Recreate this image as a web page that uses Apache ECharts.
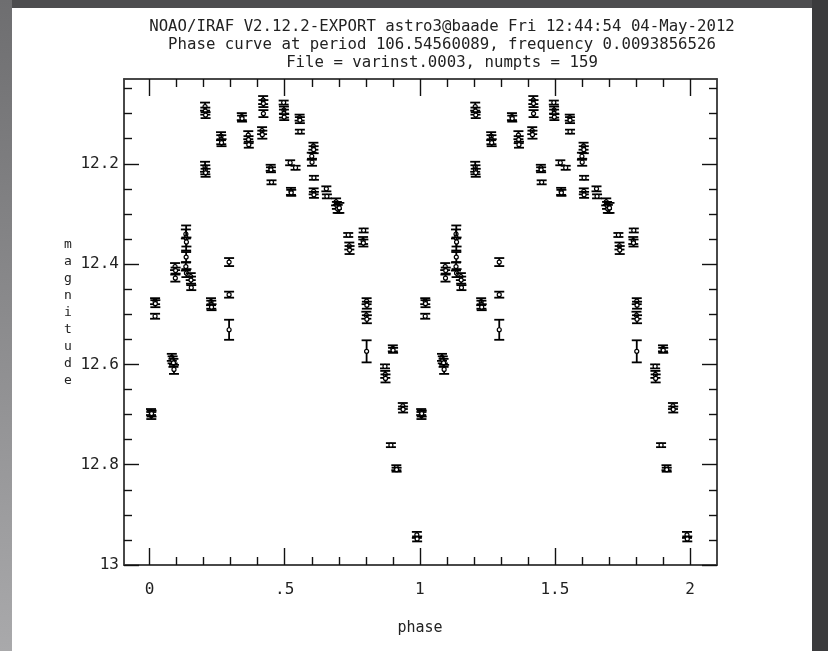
<!DOCTYPE html>
<html>
<head>
<meta charset="utf-8">
<title>Phase curve</title>
<script src="https://cdn.jsdelivr.net/npm/echarts@6.0.0/dist/echarts.min.js"></script>
<style>
  html, body { margin: 0; padding: 0; background: #fff; }
  #chart { width: 828px; height: 651px; }
</style>
</head>
<body>
<div id="chart"></div>
<script>
// one cycle of the folded light curve (phase, magnitude, error)
const phases = [
  0.005, 0.006, 0.007, 0.020, 0.021, 0.020, 0.082, 0.085, 0.088, 0.090,
  0.094, 0.096, 0.095, 0.134, 0.135, 0.136, 0.135, 0.134, 0.136, 0.152,
  0.153, 0.154, 0.205, 0.206, 0.207, 0.205, 0.206, 0.207, 0.227, 0.228,
  0.229, 0.264, 0.265, 0.266, 0.294, 0.294, 0.294, 0.341, 0.342, 0.365,
  0.366, 0.367, 0.420, 0.421, 0.421, 0.416, 0.417, 0.448, 0.449, 0.451,
  0.496, 0.497, 0.497, 0.498, 0.555, 0.556, 0.556, 0.520, 0.540, 0.523,
  0.524, 0.606, 0.607, 0.600, 0.601, 0.608, 0.607, 0.608, 0.654, 0.656,
  0.690, 0.693, 0.696, 0.702, 0.735, 0.739, 0.740, 0.792, 0.790, 0.791,
  0.803, 0.804, 0.802, 0.804, 0.803, 0.871, 0.872, 0.873, 0.893, 0.900,
  0.901, 0.913, 0.914, 0.937, 0.938, 0.989, 0.990
];
const mags = [
  12.695, 12.702, 12.698, 12.474, 12.479, 12.504, 12.586, 12.591, 12.597, 12.610,
  12.405, 12.413, 12.428, 12.340, 12.348, 12.356, 12.386, 12.405, 12.418, 12.425,
  12.432, 12.447, 12.086, 12.095, 12.103, 12.206, 12.212, 12.218, 12.475, 12.481,
  12.486, 12.145, 12.152, 12.158, 12.396, 12.461, 12.531, 12.106, 12.110, 12.143,
  12.152, 12.162, 12.073, 12.080, 12.100, 12.134, 12.142, 12.208, 12.212, 12.237,
  12.078, 12.093, 12.100, 12.107, 12.108, 12.113, 12.136, 12.198, 12.208, 12.255,
  12.258, 12.165, 12.172, 12.185, 12.197, 12.228, 12.255, 12.262, 12.250, 12.265,
  12.276, 12.283, 12.290, 12.288, 12.342, 12.364, 12.372, 12.333, 12.353, 12.358,
  12.474, 12.482, 12.502, 12.510, 12.574, 12.604, 12.620, 12.628, 12.761, 12.568,
  12.572, 12.806, 12.810, 12.683, 12.690, 12.940, 12.948
];
const errs = [
  0.006, 0.007, 0.006, 0.006, 0.007, 0.005, 0.007, 0.007, 0.008, 0.009,
  0.007, 0.006, 0.007, 0.009, 0.025, 0.009, 0.010, 0.008, 0.008, 0.007,
  0.007, 0.005, 0.008, 0.007, 0.006, 0.010, 0.009, 0.008, 0.007, 0.008,
  0.006, 0.008, 0.009, 0.007, 0.008, 0.006, 0.020, 0.007, 0.006, 0.008,
  0.007, 0.006, 0.008, 0.007, 0.007, 0.007, 0.008, 0.006, 0.005, 0.004,
  0.004, 0.007, 0.008, 0.006, 0.006, 0.006, 0.004, 0.005, 0.004, 0.007,
  0.006, 0.007, 0.007, 0.007, 0.007, 0.004, 0.006, 0.006, 0.005, 0.004,
  0.007, 0.007, 0.008, 0.010, 0.004, 0.007, 0.008, 0.004, 0.007, 0.007,
  0.006, 0.007, 0.007, 0.008, 0.022, 0.004, 0.007, 0.008, 0.004, 0.006,
  0.005, 0.005, 0.004, 0.006, 0.006, 0.006, 0.005
];
// the curve is drawn over two cycles
const cycles = [0, 1];

const xMajorTicks = [0, 0.5, 1, 1.5, 2];
const xTickLabels = ["0", ".5", "1", "1.5", "2"];
const xMinorTicks = [0.1, 0.2, 0.3, 0.4, 0.6, 0.7, 0.8, 0.9, 1.1, 1.2, 1.3, 1.4, 1.6, 1.7, 1.8, 1.9];
const yMajorTicks = [12.2, 12.4, 12.6, 12.8, 13];
const yTickLabels = ["12.2", "12.4", "12.6", "12.8", "13"];
const yMinorTicks = [12.05, 12.1, 12.15, 12.25, 12.3, 12.35, 12.45, 12.5, 12.55, 12.65, 12.7, 12.75, 12.85, 12.9, 12.95];

const titleLines = [
  "NOAO/IRAF V2.12.2-EXPORT astro3@baade Fri 12:44:54 04-May-2012",
  "Phase curve at period 106.54560089, frequency 0.0093856526",
  "File = varinst.0003, numpts = 159",
];

const FONT = "DejaVu Sans Mono";
const X_MIN = -0.095, X_MAX = 2.1;
const Y_MIN = 12.031, Y_MAX = 13.0;

const points = [];
cycles.forEach((c) => {
  phases.forEach((p, i) => points.push([p + c, mags[i], errs[i]]));
});

const frameLine = { show: true, onZero: false, lineStyle: { color: "#3c3c3c", width: 1.5 } };
const tickStyle = { color: "#111", width: 1.4 };

const makeX = (position, ticks, len, withLabels) => ({
  type: "value",
  position: position,
  min: X_MIN,
  max: X_MAX,
  axisLine: frameLine,
  splitLine: { show: false },
  axisTick: { show: true, inside: true, length: len, customValues: ticks, lineStyle: tickStyle },
  axisLabel: withLabels
    ? {
        show: true,
        customValues: ticks,
        formatter: (v) => xTickLabels[xMajorTicks.findIndex((t) => Math.abs(t - v) < 1e-6)],
        margin: 17,
        color: "#222",
        fontFamily: FONT,
        fontSize: 16,
      }
    : { show: false },
});

const makeY = (position, ticks, len, withLabels) => ({
  type: "value",
  position: position,
  inverse: true,
  min: Y_MIN,
  max: Y_MAX,
  axisLine: frameLine,
  splitLine: { show: false },
  axisTick: { show: true, inside: true, length: len, customValues: ticks, lineStyle: tickStyle },
  axisLabel: withLabels
    ? {
        show: true,
        customValues: ticks,
        formatter: (v) => yTickLabels[yMajorTicks.findIndex((t) => Math.abs(t - v) < 1e-6)],
        margin: 5,
        color: "#222",
        fontFamily: FONT,
        fontSize: 16,
      }
    : { show: false },
});

const renderErrorBar = (params, api) => {
  const x = api.value(0);
  const y = api.value(1);
  const e = api.value(2);
  const c = api.coord([x, y]);
  const hi = api.coord([x, y - e]);
  const lo = api.coord([x, y + e]);
  const hw = 5;
  const st = { stroke: "#000", lineWidth: 1.8 };
  return {
    type: "group",
    children: [
      { type: "line", shape: { x1: c[0], y1: hi[1], x2: c[0], y2: lo[1] }, style: st },
      { type: "line", shape: { x1: c[0] - hw, y1: hi[1], x2: c[0] + hw, y2: hi[1] }, style: st },
      { type: "line", shape: { x1: c[0] - hw, y1: lo[1], x2: c[0] + hw, y2: lo[1] }, style: st },
      { type: "circle", shape: { cx: c[0], cy: c[1], r: 2 }, style: { fill: "#fff", stroke: "#000", lineWidth: 1.2 } },
    ],
  };
};

const titleTexts = titleLines.map((line, i) => ({
  type: "text",
  style: {
    x: 442,
    y: 27 + i * 18,
    text: line,
    font: "15.7px " + FONT,
    fill: "#222",
    align: "center",
    verticalAlign: "middle",
  },
}));

const chart = echarts.init(document.getElementById("chart"), null, { renderer: "canvas" });

chart.setOption({
  backgroundColor: "#fff",
  animation: false,
  grid: { left: 124, right: 111, top: 79, bottom: 86 },
  xAxis: [
    makeX("bottom", xMajorTicks, 17, true),
    makeX("bottom", xMinorTicks, 8, false),
    makeX("top", xMajorTicks, 17, false),
    makeX("top", xMinorTicks, 8, false),
  ],
  yAxis: [
    makeY("left", yMajorTicks, 15, true),
    makeY("left", yMinorTicks, 8, false),
    makeY("right", yMajorTicks, 15, false),
    makeY("right", yMinorTicks, 8, false),
  ],
  graphic: [
    // window chrome around the IRAF plot
    { type: "rect", shape: { x: 0, y: 0, width: 828, height: 8 }, style: { fill: "#4d4d4f" }, silent: true },
    {
      type: "rect",
      shape: { x: 0, y: 0, width: 12, height: 651 },
      style: {
        fill: new echarts.graphic.LinearGradient(0, 0, 0, 1, [
          { offset: 0, color: "#6e6e70" },
          { offset: 1, color: "#a9a9ab" },
        ]),
      },
      silent: true,
    },
    { type: "rect", shape: { x: 812, y: 0, width: 16, height: 651 }, style: { fill: "#3b3b3d" }, silent: true },
    ...titleTexts,
    {
      type: "text",
      style: {
        x: 420,
        y: 628,
        text: "phase",
        font: "15px " + FONT,
        fill: "#222",
        align: "center",
        verticalAlign: "middle",
      },
    },
    {
      type: "text",
      style: {
        x: 68,
        y: 236,
        text: "magnitude".split("").join("\n"),
        font: "13px " + FONT,
        fill: "#222",
        align: "center",
        lineHeight: 17,
      },
    },
  ],
  series: [
    {
      type: "custom",
      xAxisIndex: 0,
      yAxisIndex: 0,
      renderItem: renderErrorBar,
      encode: { x: 0, y: 1 },
      data: points,
      z: 3,
    },
  ],
});
</script>
</body>
</html>
